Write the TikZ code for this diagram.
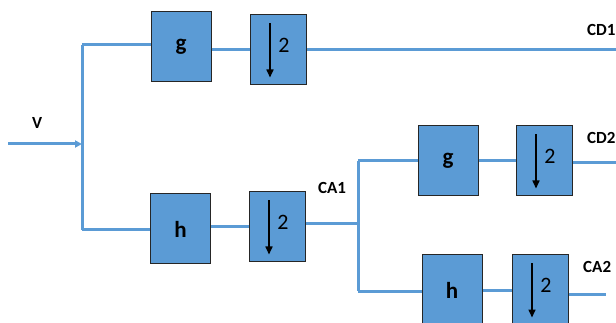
\documentclass[tikz,border=0pt]{standalone}
\usepackage{fontspec}
\setmainfont{Carlito}
\usetikzlibrary{arrows.meta,calc}
\definecolor{bl}{HTML}{5B9BD5}
\begin{document}
\begin{tikzpicture}[x=1pt,y=-1pt,
 box/.style={draw=black!85, line width=1pt, fill=bl, minimum width=60pt, minimum height=70pt, inner sep=0pt, font=\bfseries\fontsize{23}{25}\selectfont},
 dsbox/.style={draw=black!85, line width=1pt, fill=bl, minimum width=56pt, minimum height=70pt, inner sep=0pt},
 wire/.style={draw=bl, line width=3pt},
 two/.style={font=\fontsize{22}{24}\selectfont, inner sep=0pt},
 lab/.style={font=\bfseries\fontsize{17}{19}\selectfont, inner sep=0pt, anchor=west},
 dsarrow/.style={-{Triangle[length=8pt,width=7pt]}, line width=1.6pt}]
\useasboundingbox (0,0) rectangle (616,323);
\clip (0,0) rectangle (616,323);
% boxes
\node[box] (g1) at (181,47) {g};
\node[dsbox] (d1) at (278,50) {};
\node[box] (h1) at (180.5,229) {h};
\node[dsbox] (d2) at (277,227) {};
\node[box] (g2) at (448,161) {g};
\node[dsbox] (d3) at (544,161) {};
\node[box] (h2) at (452,290) {h};
\node[dsbox] (d4) at (540,290) {};
% downsample symbols
\foreach \d in {d1,d2,d3,d4}{
  \draw[dsarrow] ($(\d.north)+(-8,9)$) coordinate (\d a) -- ($(\d.south)+(-8,-8)$) coordinate (\d b);
  \node[two] (\d t) at ($(\d.center)+(6,-5)$) {2};
}
% coordinates
\coordinate (in) at (8,144);
\coordinate (s1) at (82,144);
\coordinate (s1top) at (82,45);
\coordinate (s1bot) at (82,230);
\coordinate (cd1end) at (616,50);
\coordinate (s2mid) at (358,224);
\coordinate (s2top) at (358,161);
\coordinate (s2bot) at (358,291);
\coordinate (cd2end) at (616,163);
\coordinate (ca2end) at (606,294);
% wires
\draw[wire,-{Triangle[length=7pt,width=7pt]}] (in) -- (s1);
\draw[wire] (s1top) -- (s1bot);
\draw[wire] (s1top) -- (s1top -| g1.west);
\draw[wire] (g1.east |- d1) -- (d1.west);
\draw[wire] (d1.east) -- (cd1end);
\draw[wire] (s1bot) -- (s1bot -| h1.west);
\draw[wire] (h1.east |- d2) -- (d2.west);
\draw[wire] (d2.east |- s2mid) -- (s2mid);
\draw[wire] (s2top) -- (s2bot);
\draw[wire] (s2top) -- (s2top -| g2.west);
\draw[wire] (g2.east |- d3) -- (d3.west);
\draw[wire] (d3.east |- cd2end) -- (cd2end);
\draw[wire] (s2bot) -- (s2bot -| h2.west);
\draw[wire] (h2.east |- d4) -- (d4.west);
\draw[wire] (d4.east |- ca2end) -- (ca2end);
% labels
\node[lab] (lv) at (32,123) {V};
\node[lab] (lcd1) at (587,30) {CD1};
\node[lab] (lcd2) at (587,138) {CD2};
\node[lab] (lca1) at (318,188) {CA1};
\node[lab] (lca2) at (583,267) {CA2};
\end{tikzpicture}
\end{document}
